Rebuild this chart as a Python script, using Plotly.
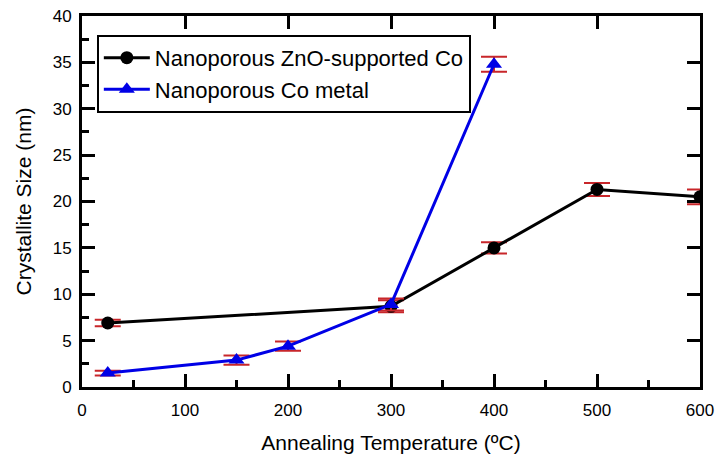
import plotly.graph_objects as go

# Data
temps_zno = [25, 300, 400, 500, 600]
size_zno = [6.9, 8.7, 15.0, 21.3, 20.5]
err_zno = [0.35, 0.65, 0.6, 0.7, 0.8]

temps_co = [25, 150, 200, 300, 400]
size_co = [1.5, 2.9, 4.4, 8.9, 34.8]
err_co = [0.25, 0.5, 0.5, 0.65, 0.8]

name_zno = "Nanoporous ZnO-supported Co"
name_co = "Nanoporous Co metal"

FONT = "Arial, Liberation Sans, sans-serif"
ERR_COLOR = "#c8262a"

fig = go.Figure()
fig.add_trace(go.Scatter(
    x=temps_zno, y=size_zno, name=name_zno, mode="lines+markers",
    line=dict(color="black", width=3),
    marker=dict(symbol="circle", size=13, color="black"),
    error_y=dict(type="data", array=err_zno, color=ERR_COLOR, thickness=2, width=13),
))
fig.add_trace(go.Scatter(
    x=temps_co, y=size_co, name=name_co, mode="lines+markers",
    line=dict(color="#0000e6", width=3),
    marker=dict(symbol="triangle-up", size=14, color="#0000e6"),
    error_y=dict(type="data", array=err_co, color=ERR_COLOR, thickness=2, width=13),
))
# dummy trace to show mirrored axes (top/right) with major ticks only
fig.add_trace(go.Scatter(x=[0], y=[0], xaxis="x2", yaxis="y2", mode="markers",
                         marker=dict(opacity=0), showlegend=False, hoverinfo="skip"))

axis_common = dict(showgrid=False, zeroline=False, showline=True, linecolor="black",
                   linewidth=3, ticks="inside", ticklen=13, tickwidth=3, tickcolor="black",
                   automargin=False,
                   tickfont=dict(family=FONT, size=17, color="black"))

fig.update_layout(
    width=717, height=460,
    margin=dict(l=82, r=17, t=16, b=73),
    paper_bgcolor="white", plot_bgcolor="white",
    font=dict(family=FONT, color="black"),
    xaxis=dict(range=[0, 600], dtick=100, tick0=0, ticklabelstandoff=6,
               minor=dict(ticks="inside", ticklen=7, tickwidth=3, tickcolor="black", dtick=50),
               title=dict(text="Annealing Temperature (ºC)", font=dict(family=FONT, size=21), standoff=16),
               **axis_common),
    yaxis=dict(range=[0, 40], dtick=5, tick0=0, ticklabelstandoff=4,
               minor=dict(ticks="inside", ticklen=7, tickwidth=3, tickcolor="black", dtick=2.5),
               title=dict(text="Crystallite Size (nm)", font=dict(family=FONT, size=21), standoff=16),
               **axis_common),
    xaxis2=dict(range=[0, 600], dtick=100, tick0=0, overlaying="x", side="top", anchor="y",
                showticklabels=False, **axis_common),
    yaxis2=dict(range=[0, 40], dtick=5, tick0=0, overlaying="y", side="right", anchor="x",
                showticklabels=False, **axis_common),
    legend=dict(x=0.024, y=0.949, xanchor="left", yanchor="top",
                bgcolor="white", bordercolor="black", borderwidth=2,
                font=dict(family=FONT, size=22, color="black"),
                tracegroupgap=0, itemwidth=46),
    showlegend=True,
)

fig.write_html("out.html", config={"displayModeBar": False},
               post_script="document.body.style.margin='0';document.body.style.overflow='hidden';")
